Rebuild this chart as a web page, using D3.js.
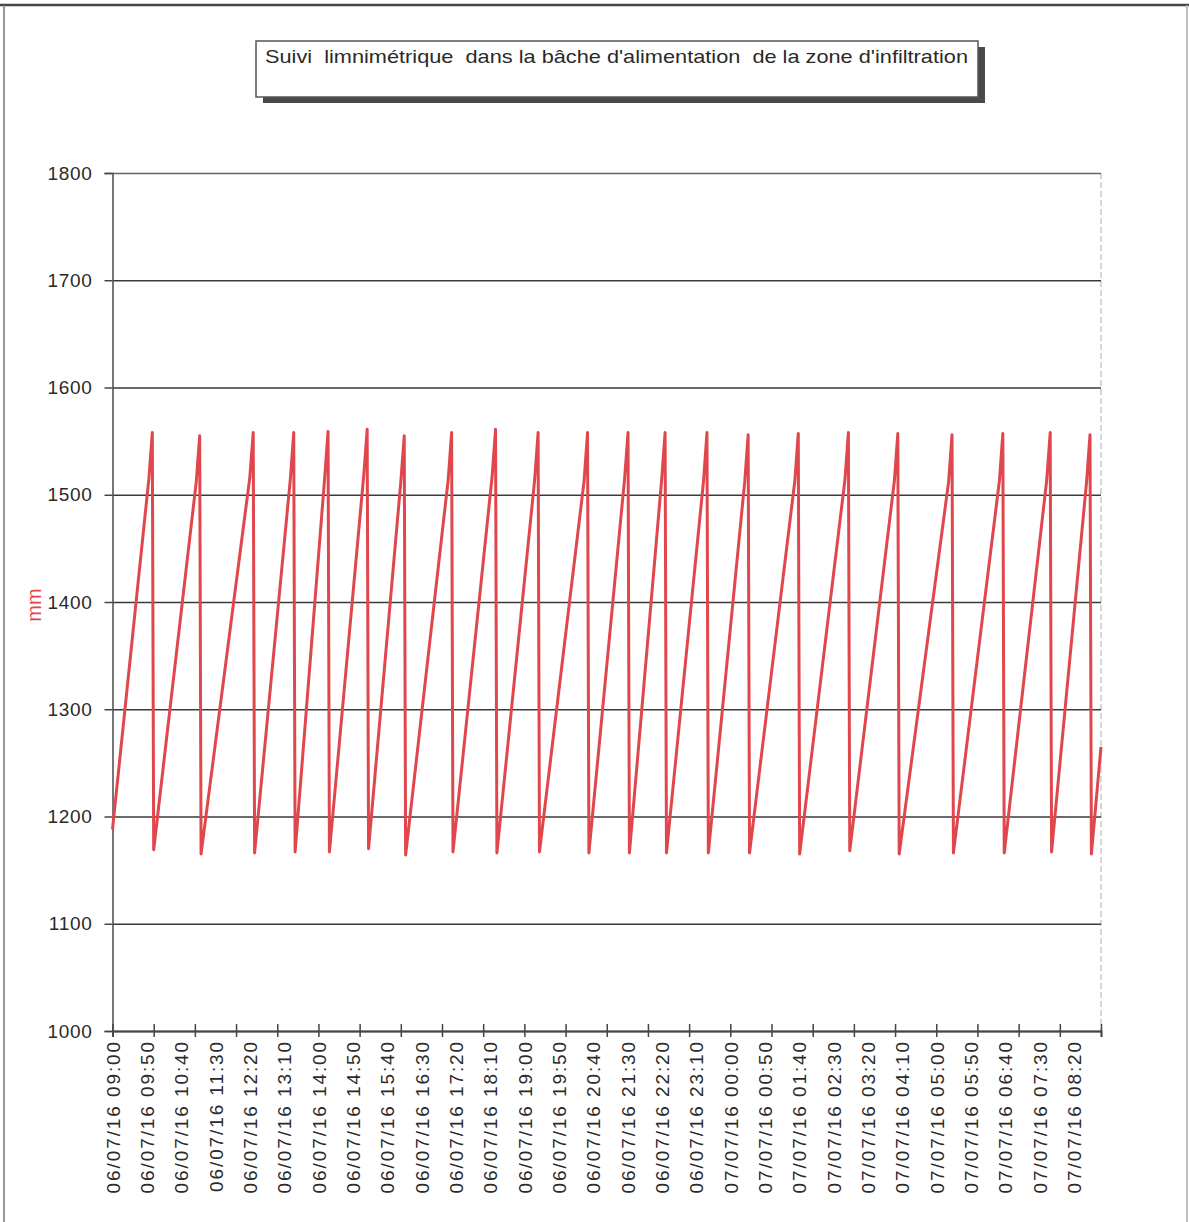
<!DOCTYPE html>
<html><head><meta charset="utf-8">
<script src="https://cdn.jsdelivr.net/npm/d3@7"></script>
<style>body{margin:0;background:#fff}svg{display:block}text{font-family:"Liberation Sans",Arial,sans-serif}</style>
</head><body>
<svg id="c" width="1189" height="1222"></svg>
<script>
const title = "Suivi  limnimétrique  dans la bâche d'alimentation  de la zone d'infiltration";
const yLabel = "mm";
const yTicks = [1000, 1100, 1200, 1300, 1400, 1500, 1600, 1700, 1800];
const xDomain = ["06/07/16 09:00", "07/07/16 09:00"];
const xLabels = ["06/07/16 09:00","06/07/16 09:50","06/07/16 10:40","06/07/16 11:30","06/07/16 12:20",
  "06/07/16 13:10","06/07/16 14:00","06/07/16 14:50","06/07/16 15:40","06/07/16 16:30","06/07/16 17:20",
  "06/07/16 18:10","06/07/16 19:00","06/07/16 19:50","06/07/16 20:40","06/07/16 21:30","06/07/16 22:20",
  "06/07/16 23:10","07/07/16 00:00","07/07/16 00:50","07/07/16 01:40","07/07/16 02:30","07/07/16 03:20",
  "07/07/16 04:10","07/07/16 05:00","07/07/16 05:50","07/07/16 06:40","07/07/16 07:30","07/07/16 08:20"];

// water level readings (time, mm)
const times = [
  "06/07/16 09:00","06/07/16 09:53","06/07/16 09:58","06/07/16 10:00",
  "06/07/16 11:02","06/07/16 11:07","06/07/16 11:09",
  "06/07/16 12:20","06/07/16 12:25","06/07/16 12:27",
  "06/07/16 13:19","06/07/16 13:24","06/07/16 13:26",
  "06/07/16 14:09","06/07/16 14:14","06/07/16 14:16",
  "06/07/16 15:06","06/07/16 15:11","06/07/16 15:13",
  "06/07/16 16:00","06/07/16 16:05","06/07/16 16:07",
  "06/07/16 17:09","06/07/16 17:14","06/07/16 17:16",
  "06/07/16 18:13","06/07/16 18:18","06/07/16 18:20",
  "06/07/16 19:15","06/07/16 19:20","06/07/16 19:22",
  "06/07/16 20:27","06/07/16 20:32","06/07/16 20:34",
  "06/07/16 21:26","06/07/16 21:31","06/07/16 21:33",
  "06/07/16 22:20","06/07/16 22:25","06/07/16 22:27",
  "06/07/16 23:21","06/07/16 23:26","06/07/16 23:28",
  "07/07/16 00:21","07/07/16 00:26","07/07/16 00:28",
  "07/07/16 01:34","07/07/16 01:39","07/07/16 01:41",
  "07/07/16 02:47","07/07/16 02:52","07/07/16 02:54",
  "07/07/16 03:59","07/07/16 04:04","07/07/16 04:06",
  "07/07/16 05:18","07/07/16 05:23","07/07/16 05:25",
  "07/07/16 06:32","07/07/16 06:37","07/07/16 06:39",
  "07/07/16 07:41","07/07/16 07:46","07/07/16 07:48",
  "07/07/16 08:39","07/07/16 08:44","07/07/16 08:46",
  "07/07/16 09:00"];
const levels = [
  1188, 1515, 1558, 1169,
  1512, 1555, 1165,
  1516, 1558, 1166,
  1514, 1558, 1167,
  1515, 1559, 1167,
  1518, 1561, 1170,
  1512, 1555, 1164,
  1514, 1558, 1167,
  1517, 1561, 1166,
  1514, 1558, 1167,
  1513, 1558, 1166,
  1515, 1558, 1166,
  1514, 1558, 1166,
  1513, 1558, 1166,
  1512, 1556, 1166,
  1513, 1557, 1165,
  1514, 1558, 1168,
  1513, 1557, 1165,
  1512, 1556, 1166,
  1513, 1557, 1166,
  1514, 1558, 1167,
  1512, 1556, 1165,
  1265];

const parse = d3.timeParse("%d/%m/%y %H:%M");
const svg = d3.select("#c");
const L = 112.5, R = 1101, T = 173, B = 1031;

const x = d3.scaleTime().domain(xDomain.map(parse)).range([L, R]);
const y = d3.scaleLinear().domain([1000, 1800]).range([B, T]);

// outer frame
svg.append("line").attr("x1", 0).attr("x2", 1189).attr("y1", 5).attr("y2", 5)
  .attr("stroke", "#444").attr("stroke-width", 2.5);
svg.append("line").attr("x1", 4).attr("x2", 4).attr("y1", 5).attr("y2", 1222)
  .attr("stroke", "#777").attr("stroke-width", 1.5);
svg.append("line").attr("x1", 1187).attr("x2", 1187).attr("y1", 5).attr("y2", 1222)
  .attr("stroke", "#aaa").attr("stroke-width", 1.5);

// title box with shadow
const tb = {x: 256, y: 41, w: 722, h: 56};
svg.append("rect").attr("x", tb.x + 7).attr("y", tb.y + 6).attr("width", tb.w).attr("height", tb.h)
  .attr("fill", "#4a4a4a");
svg.append("rect").attr("x", tb.x).attr("y", tb.y).attr("width", tb.w).attr("height", tb.h)
  .attr("fill", "#fff").attr("stroke", "#555").attr("stroke-width", 1.5);
svg.append("text").attr("x", 265).attr("y", 63).attr("xml:space", "preserve")
  .style("white-space", "pre")
  .attr("font-size", 19).attr("fill", "#2a2a2a")
  .attr("textLength", 703).attr("lengthAdjust", "spacingAndGlyphs")
  .text(title);

// right plot border (light dashed)
svg.append("line").attr("x1", R).attr("x2", R).attr("y1", T).attr("y2", B)
  .attr("stroke", "#bbb").attr("stroke-width", 1.2).attr("stroke-dasharray", "6,3");

// horizontal gridlines
const grid = svg.append("g").attr("transform", `translate(${L},0)`)
  .call(d3.axisLeft(y).tickValues(yTicks).tickSize(-(R - L)).tickFormat(""));
grid.select(".domain").remove();
grid.selectAll(".tick line").attr("stroke", "#3a3a3a").attr("stroke-width", 1.6);
grid.selectAll(".tick").filter(d => d === 1800).select("line").attr("stroke", "#666").attr("stroke-width", 1.3);

// y axis
const ya = svg.append("g").attr("transform", `translate(${L},0)`)
  .call(d3.axisLeft(y).tickValues(yTicks).tickSize(8).tickPadding(12).tickFormat(d3.format("d")));
ya.select(".domain").attr("stroke", "#555").attr("stroke-width", 1.6);
ya.selectAll(".tick line").attr("stroke", "#444").attr("stroke-width", 1.5);
ya.selectAll(".tick text").attr("font-size", 19).attr("fill", "#2a2a2a")
  .style("letter-spacing", "0.7px").attr("font-family", "Liberation Sans, Arial, sans-serif");

// y label
svg.append("text").attr("transform", "translate(41,605) rotate(-90)")
  .attr("text-anchor", "middle").attr("font-size", 20).attr("fill", "#e0474c").text(yLabel);

// x axis hourly ticks crossing the axis line
const xa = svg.append("g").attr("transform", `translate(0,${B})`)
  .call(d3.axisBottom(x).ticks(d3.timeHour.every(1)).tickSize(6).tickFormat(""));
xa.select(".domain").attr("stroke", "#444").attr("stroke-width", 1.8);
xa.selectAll(".tick line").attr("stroke", "#444").attr("stroke-width", 1.5);
const xa2 = svg.append("g").attr("transform", `translate(0,${B})`)
  .call(d3.axisTop(x).ticks(d3.timeHour.every(1)).tickSize(7).tickFormat(""));
xa2.select(".domain").remove();
xa2.selectAll(".tick line").attr("stroke", "#444").attr("stroke-width", 1.5);

// x labels every 50 minutes
const xl = svg.append("g").attr("transform", `translate(0,${B})`)
  .call(d3.axisBottom(x).tickValues(xLabels.map(parse)).tickSize(0)
    .tickFormat(d3.timeFormat("%d/%m/%y %H:%M")));
xl.select(".domain").remove();
xl.selectAll(".tick text")
  .attr("transform", "rotate(-90)")
  .attr("x", -9).attr("y", 0).attr("dy", "0.36em")
  .attr("text-anchor", "end")
  .attr("font-size", 19).attr("fill", "#2a2a2a")
  .style("letter-spacing", "1.9px").attr("font-family", "Liberation Sans, Arial, sans-serif");

// level series
const data = times.map((t, i) => ({t: parse(t), v: levels[i]}));
svg.append("path").datum(data)
  .attr("fill", "none").attr("stroke", "#e0474c").attr("stroke-width", 3)
  .attr("stroke-linejoin", "round")
  .attr("d", d3.line().x(d => x(d.t)).y(d => y(d.v)));
</script>
</body></html>
